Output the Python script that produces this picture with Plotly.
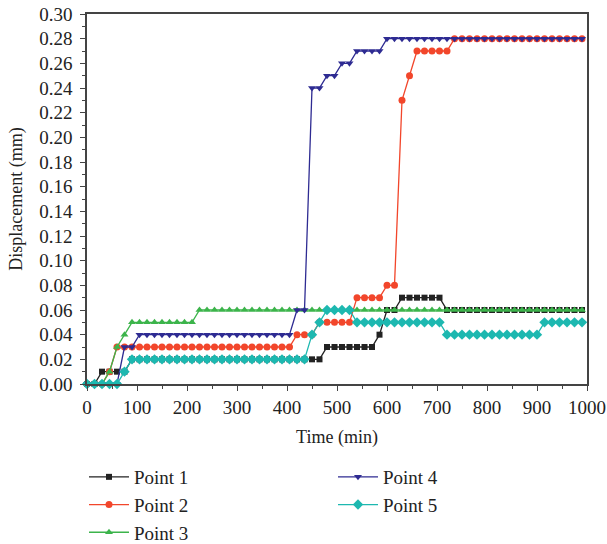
import plotly.graph_objects as go

# Sampling times (min), one reading every 15 minutes
time_min = list(range(0, 1000, 15))

point1 = [0, 0, 0.01, 0.01, 0.01, 0.01, 0.02, 0.02, 0.02, 0.02,
          0.02, 0.02, 0.02, 0.02, 0.02, 0.02, 0.02, 0.02, 0.02, 0.02,
          0.02, 0.02, 0.02, 0.02, 0.02, 0.02, 0.02, 0.02, 0.02, 0.02,
          0.02, 0.02, 0.03, 0.03, 0.03, 0.03, 0.03, 0.03, 0.03, 0.04,
          0.06, 0.06, 0.07, 0.07, 0.07, 0.07, 0.07, 0.07, 0.06, 0.06,
          0.06, 0.06, 0.06, 0.06, 0.06, 0.06, 0.06, 0.06, 0.06, 0.06,
          0.06, 0.06, 0.06, 0.06, 0.06, 0.06, 0.06]

point2 = [0, 0, 0, 0.01, 0.03, 0.03, 0.03, 0.03, 0.03, 0.03,
          0.03, 0.03, 0.03, 0.03, 0.03, 0.03, 0.03, 0.03, 0.03, 0.03,
          0.03, 0.03, 0.03, 0.03, 0.03, 0.03, 0.03, 0.03, 0.04, 0.04,
          0.04, 0.05, 0.05, 0.05, 0.05, 0.05, 0.07, 0.07, 0.07, 0.07,
          0.08, 0.08, 0.23, 0.25, 0.27, 0.27, 0.27, 0.27, 0.27, 0.28,
          0.28, 0.28, 0.28, 0.28, 0.28, 0.28, 0.28, 0.28, 0.28, 0.28,
          0.28, 0.28, 0.28, 0.28, 0.28, 0.28, 0.28]

point3 = [0, 0, 0, 0.01, 0.03, 0.04, 0.05, 0.05, 0.05, 0.05,
          0.05, 0.05, 0.05, 0.05, 0.05, 0.06, 0.06, 0.06, 0.06, 0.06,
          0.06, 0.06, 0.06, 0.06, 0.06, 0.06, 0.06, 0.06, 0.06, 0.06,
          0.06, 0.06, 0.06, 0.06, 0.06, 0.06, 0.06, 0.06, 0.06, 0.06,
          0.06, 0.06, 0.06, 0.06, 0.06, 0.06, 0.06, 0.06, 0.06, 0.06,
          0.06, 0.06, 0.06, 0.06, 0.06, 0.06, 0.06, 0.06, 0.06, 0.06,
          0.06, 0.06, 0.06, 0.06, 0.06, 0.06, 0.06]

point4 = [0, 0, 0, 0, 0, 0.03, 0.03, 0.04, 0.04, 0.04,
          0.04, 0.04, 0.04, 0.04, 0.04, 0.04, 0.04, 0.04, 0.04, 0.04,
          0.04, 0.04, 0.04, 0.04, 0.04, 0.04, 0.04, 0.04, 0.06, 0.06,
          0.24, 0.24, 0.25, 0.25, 0.26, 0.26, 0.27, 0.27, 0.27, 0.27,
          0.28, 0.28, 0.28, 0.28, 0.28, 0.28, 0.28, 0.28, 0.28, 0.28,
          0.28, 0.28, 0.28, 0.28, 0.28, 0.28, 0.28, 0.28, 0.28, 0.28,
          0.28, 0.28, 0.28, 0.28, 0.28, 0.28, 0.28]

point5 = [0, 0, 0, 0, 0, 0.01, 0.02, 0.02, 0.02, 0.02,
          0.02, 0.02, 0.02, 0.02, 0.02, 0.02, 0.02, 0.02, 0.02, 0.02,
          0.02, 0.02, 0.02, 0.02, 0.02, 0.02, 0.02, 0.02, 0.02, 0.02,
          0.04, 0.05, 0.06, 0.06, 0.06, 0.06, 0.05, 0.05, 0.05, 0.05,
          0.05, 0.05, 0.05, 0.05, 0.05, 0.05, 0.05, 0.05, 0.04, 0.04,
          0.04, 0.04, 0.04, 0.04, 0.04, 0.04, 0.04, 0.04, 0.04, 0.04,
          0.04, 0.05, 0.05, 0.05, 0.05, 0.05, 0.05]

series_names = ["Point 1", "Point 2", "Point 3", "Point 4", "Point 5"]
series_values = [point1, point2, point3, point4, point5]
series_colors = ["#222222", "#f2462b", "#3cb44b", "#2e2b92", "#1db8b0"]
series_symbols = ["square", "circle", "triangle-up", "triangle-down", "diamond"]
series_sizes = [6, 7, 7, 7, 8]
# legend laid out column-wise: 1,2,3 on the left, 4,5 on the right
legend_ranks = [1, 3, 5, 2, 4]

FONT = "Liberation Serif"

fig = go.Figure()
for name, vals, col, sym, sz, rk in zip(series_names, series_values, series_colors,
                                         series_symbols, series_sizes, legend_ranks):
    fig.add_trace(go.Scatter(
        x=time_min, y=vals, name=name, mode="lines+markers",
        line=dict(color=col, width=1.3),
        marker=dict(symbol=sym, size=sz, color=col),
        legendrank=rk, cliponaxis=False,
    ))

axis_common = dict(
    showline=True, linecolor="#444444", linewidth=1.5, mirror=True,
    ticks="outside", ticklen=5, tickwidth=1.2, tickcolor="#444444",
    showgrid=False, zeroline=False,
    tickfont=dict(family=FONT, size=19, color="#222222"),
)

fig.update_xaxes(
    range=[0, 1000], dtick=100, tick0=0,
    minor=dict(dtick=50, ticks="outside", ticklen=3, tickcolor="#444444"),
    title=dict(text="Time (min)", font=dict(family=FONT, size=18, color="#222222"), standoff=14),
    **axis_common,
)
fig.update_yaxes(
    range=[0, 0.30], dtick=0.02, tick0=0, tickformat=".2f",
    ticklabelstandoff=4,
    minor=dict(dtick=0.01, ticks="outside", ticklen=3, tickcolor="#444444"),
    title=dict(text="Displacement (mm)", font=dict(family=FONT, size=18, color="#222222"), standoff=12),
    **axis_common,
)

fig.update_layout(
    width=607, height=544,
    margin=dict(l=87, r=20, t=14, b=160, autoexpand=False),
    paper_bgcolor="white", plot_bgcolor="white",
    font=dict(family=FONT, size=18, color="#222222"),
    legend=dict(
        orientation="h", x=-0.006, xanchor="left", y=-0.2, yanchor="top",
        entrywidth=194, entrywidthmode="pixels", itemwidth=40,
        font=dict(family=FONT, size=19, color="#222222"),
        bgcolor="rgba(0,0,0,0)",
    ),
)

fig.write_html("out.html")
